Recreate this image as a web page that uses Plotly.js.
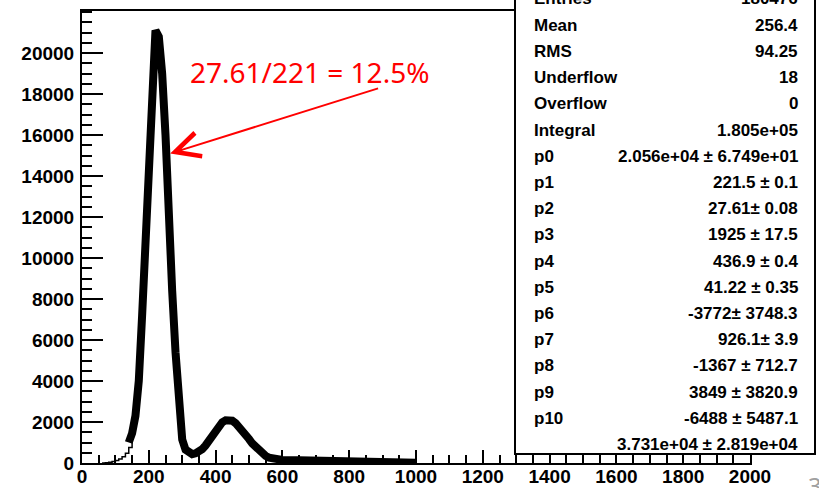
<!DOCTYPE html>
<html>
<head>
<meta charset="utf-8">
<script src="https://cdn.plot.ly/plotly-3.0.1.min.js"></script>
<style>
  html, body { margin: 0; padding: 0; background: #ffffff; }
  #chart { width: 819px; height: 488px; }
</style>
</head>
<body>
<div id="chart"></div>
<script>
// Spectrum: thin histogram tail below the fit range
const tailX = [60, 70, 80, 90, 100, 110, 120, 130, 140, 150];
const tailY = [0, 15, 40, 70, 120, 190, 300, 480, 760, 1150];

// Spectrum inside the fit range (drawn thick)
const specX = [140, 150, 160, 170, 180, 190, 200, 210, 220, 230, 240, 250, 260, 270, 280, 290, 300,
               310, 320, 330, 340, 350, 360, 370, 380, 390, 400, 410, 420, 430, 440, 450, 460, 470,
               480, 490, 500, 510, 520, 530, 540, 550, 560, 570, 580, 590, 600, 650, 700, 720, 730,
               800, 900, 1000];
const specY = [1000, 1450, 2300, 4000, 7200, 10800, 14600, 18400, 21100, 20800, 19000, 16000, 11300,
               8400, 5400, 2700, 1150, 650, 480, 430, 470, 560, 680, 860, 1100, 1350, 1600, 1820,
               1990, 2080, 2110, 2060, 1940, 1780, 1580, 1380, 1170, 950, 760, 590, 450, 340, 260,
               210, 180, 160, 150, 130, 120, 110, 50, 35, 25, 15];

// Axis tick labels
const xTickVals = [0, 200, 400, 600, 800, 1000, 1200, 1400, 1600, 1800, 2000];
const yTickVals = [0, 2000, 4000, 6000, 8000, 10000, 12000, 14000, 16000, 18000, 20000];

// Statistics box rows
const statLabels = ['Entries', 'Mean', 'RMS', 'Underflow', 'Overflow', 'Integral',
                    'p0', 'p1', 'p2', 'p3', 'p4', 'p5', 'p6', 'p7', 'p8', 'p9', 'p10', ''];
const statValues = ['180476', '256.4', '94.25', '18', '0', '1.805e+05',
                    '2.056e+04 \u00b1 6.749e+01', '221.5 \u00b1 0.1', '27.61\u00b1 0.08',
                    '1925 \u00b1 17.5', '436.9 \u00b1 0.4', '41.22 \u00b1 0.35', '-3772\u00b1 3748.3',
                    '926.1\u00b1 3.9', '-1367 \u00b1 712.7', '3849 \u00b1 3820.9', '-6488 \u00b1 5487.1',
                    '3.731e+04 \u00b1 2.819e+04'];

const resolutionText = '27.61/221 = 12.5%';
const pageNumber = '3';

// Frame geometry (pixels)
const W = 819, H = 488;
const M = { l: 82, r: 69, t: 11, b: 25 };
const PW = W - M.l - M.r, PH = H - M.t - M.b;
const px = v => (v - M.l) / PW;
const py = v => (H - M.b - v) / PH;

const boldFont = 'Liberation Sans, Arial, Helvetica, sans-serif';
const bold = s => '<b>' + s + '</b>';

const traces = [
  {
    x: tailX, y: tailY, type: 'scatter', mode: 'lines',
    line: { color: '#000000', width: 1.5, shape: 'hv' },
    hoverinfo: 'skip'
  },
  {
    x: specX, y: specY, type: 'scatter', mode: 'lines',
    line: { color: '#000000', width: 8 },
    hoverinfo: 'skip'
  }
];

const annotations = [];
const rowTop = -1, rowStep = 26.2;
statLabels.forEach((lab, i) => {
  const yy = py(rowTop + rowStep * i);
  if (lab) {
    annotations.push({
      xref: 'paper', yref: 'paper', x: px(532), y: yy, xanchor: 'left', yanchor: 'middle',
      text: bold(lab), showarrow: false,
      font: { family: boldFont, size: 17, color: '#000000' }
    });
  }
  annotations.push({
    xref: 'paper', yref: 'paper', x: px(800), y: yy, xanchor: 'right', yanchor: 'middle',
    text: bold(statValues[i]), showarrow: false,
    font: { family: boldFont, size: 17, color: '#000000' }
  });
});

// Red resolution note with its arrow pointing to the main peak
annotations.push({
  xref: 'paper', yref: 'paper', x: px(309), y: py(72), xanchor: 'center', yanchor: 'middle',
  text: resolutionText, showarrow: false,
  font: { family: 'Noto Sans, Open Sans, sans-serif', size: 28, color: '#ff0000' }
});
annotations.push({
  xref: 'x', yref: 'y', x: 264, y: 15100,
  axref: 'x', ayref: 'y', ax: 891, ay: 18300,
  text: '', showarrow: true, arrowhead: 5, arrowsize: 2.4, arrowwidth: 2,
  arrowcolor: '#ff0000', standoff: 0, startstandoff: 0
});

// Slide number at the lower right corner
annotations.push({
  xref: 'paper', yref: 'paper', x: px(806), y: py(485), xanchor: 'left', yanchor: 'middle',
  text: pageNumber, showarrow: false,
  font: { family: 'Noto Sans, sans-serif', size: 24, color: '#a0a0a0' }
});

const layout = {
  width: W, height: H,
  margin: M,
  paper_bgcolor: '#ffffff', plot_bgcolor: '#ffffff',
  showlegend: false,
  xaxis: {
    range: [0, 2000],
    tickmode: 'array', tickvals: xTickVals, ticktext: xTickVals.map(v => bold(String(v))),
    showgrid: false, zeroline: false,
    showline: true, mirror: true, linecolor: '#000000', linewidth: 2,
    ticks: 'inside', ticklen: 13, tickwidth: 2, tickcolor: '#000000',
    minor: { tickmode: 'linear', tick0: 0, dtick: 50, ticks: 'inside', ticklen: 8, tickwidth: 2,
             tickcolor: '#000000', showgrid: false },
    tickfont: { family: boldFont, size: 19, color: '#000000' },
    ticklabelstandoff: -5,
    automargin: false, fixedrange: true
  },
  yaxis: {
    range: [0, 22050],
    tickmode: 'array', tickvals: yTickVals, ticktext: yTickVals.map(v => bold(String(v))),
    showgrid: false, zeroline: false,
    showline: true, mirror: true, linecolor: '#000000', linewidth: 2,
    ticks: 'inside', ticklen: 21, tickwidth: 2, tickcolor: '#000000',
    minor: { tickmode: 'linear', tick0: 0, dtick: 500, ticks: 'inside', ticklen: 10, tickwidth: 2,
             tickcolor: '#000000', showgrid: false },
    tickfont: { family: boldFont, size: 19, color: '#000000' },
    ticklabelstandoff: 2,
    automargin: false, fixedrange: true
  },
  shapes: [
    // statistics box
    {
      type: 'rect', xref: 'paper', yref: 'paper', layer: 'above',
      x0: px(515), x1: px(815), y0: py(454), y1: py(-30),
      fillcolor: '#ffffff', line: { color: '#000000', width: 2 }
    }
  ],
  annotations: annotations
};

Plotly.newPlot('chart', traces, layout, { staticPlot: true, displayModeBar: false });
</script>
</body>
</html>
